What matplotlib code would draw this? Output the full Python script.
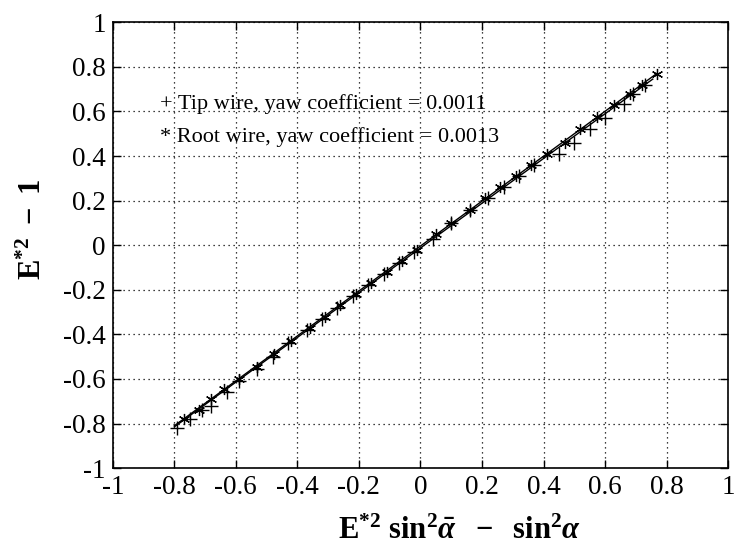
import matplotlib
matplotlib.use("Agg")
import matplotlib.pyplot as plt
from matplotlib.ticker import FuncFormatter

plt.rcParams["font.family"] = ["Liberation Serif", "DejaVu Serif"]
plt.rcParams["axes.unicode_minus"] = False
plt.rcParams["mathtext.fontset"] = "custom"
plt.rcParams["mathtext.rm"] = "Liberation Serif:bold"
plt.rcParams["mathtext.it"] = "Liberation Serif:bold:italic"
plt.rcParams["mathtext.bf"] = "Liberation Serif:bold"

# tip wire (+)
tip_x = [-0.79, -0.75, -0.71, -0.68, -0.63, -0.59, -0.53, -0.48, -0.43, -0.37, -0.32,
         -0.27, -0.22, -0.17, -0.12, -0.07, -0.02, 0.04, 0.10, 0.16, 0.22, 0.27, 0.32,
         0.37, 0.45, 0.50, 0.55, 0.60, 0.66, 0.69, 0.73]
tip_y = [-0.82, -0.78, -0.74, -0.72, -0.66, -0.61, -0.555, -0.50, -0.44, -0.38, -0.33,
         -0.28, -0.23, -0.18, -0.13, -0.08, -0.03, 0.03, 0.10, 0.16, 0.21, 0.26, 0.31,
         0.36, 0.41, 0.46, 0.52, 0.57, 0.635, 0.68, 0.72]

# root wire (*)
root_x = [-0.77, -0.72, -0.68, -0.64, -0.59, -0.53, -0.475, -0.42, -0.36, -0.31, -0.26,
          -0.21, -0.16, -0.11, -0.06, -0.01, 0.05, 0.10, 0.16, 0.21, 0.26, 0.31, 0.36,
          0.41, 0.47, 0.52, 0.575, 0.63, 0.68, 0.72, 0.768]
root_y = [-0.78, -0.74, -0.69, -0.645, -0.60, -0.545, -0.49, -0.43, -0.37, -0.32, -0.27,
          -0.22, -0.17, -0.12, -0.07, -0.02, 0.05, 0.10, 0.16, 0.21, 0.26, 0.31, 0.36,
          0.41, 0.46, 0.52, 0.573, 0.627, 0.68, 0.72, 0.77]

# fitted lines
tip_fit_x = [-0.80, 0.755]
tip_fit_y = [-0.815, 0.745]
root_fit_x = [-0.80, 0.768]
root_fit_y = [-0.81, 0.77]

ticks = [-1, -0.8, -0.6, -0.4, -0.2, 0, 0.2, 0.4, 0.6, 0.8, 1]

fig = plt.figure(figsize=(7.37, 5.56), dpi=100)
ax = fig.add_axes([0.153, 0.158, 0.835, 0.802])

ax.plot(tip_fit_x, tip_fit_y, color="black", lw=1.0)
ax.plot(root_fit_x, root_fit_y, color="black", lw=1.0)
ax.plot(tip_x, tip_y, linestyle="none", marker="+", ms=10, mew=1.0, color="black")
ax.plot(root_x, root_y, linestyle="none", marker=(6, 2, 0), ms=8, mew=0.9, color="black")

ax.set_xlim(-1, 1)
ax.set_ylim(-1, 1)
ax.set_xticks(ticks)
ax.set_yticks(ticks)
fmt = FuncFormatter(lambda v, p: f"{v:g}")
ax.xaxis.set_major_formatter(fmt)
ax.yaxis.set_major_formatter(fmt)
ax.tick_params(direction="in", length=6, width=1, top=True, right=True,
               labelsize=19.5, colors="black", pad=5)
ax.grid(True, linestyle=(0, (1, 3)), color="black", lw=0.9)
for s in ax.spines.values():
    s.set_linewidth(1.2)

ax.text(-0.845, 0.635, "+ Tip wire, yaw coefficient = 0.0011", fontsize=16, va="center")
ax.text(-0.845, 0.485, "* Root wire, yaw coefficient = 0.0013", fontsize=16, va="center")

ax.set_ylabel(r"$\mathrm{E}^{*2}\ -\ 1$", fontsize=22)
ax.yaxis.set_label_coords(-0.105, 0.535)
ax.set_xlabel(r"$\mathrm{E}^{*2}\ \mathrm{sin}^{2}\bar{\alpha}\ \ -\ \ \mathrm{sin}^{2}\alpha$",
              fontsize=22)
ax.xaxis.set_label_coords(0.563, -0.11)

fig.savefig("out.png", dpi=100)
